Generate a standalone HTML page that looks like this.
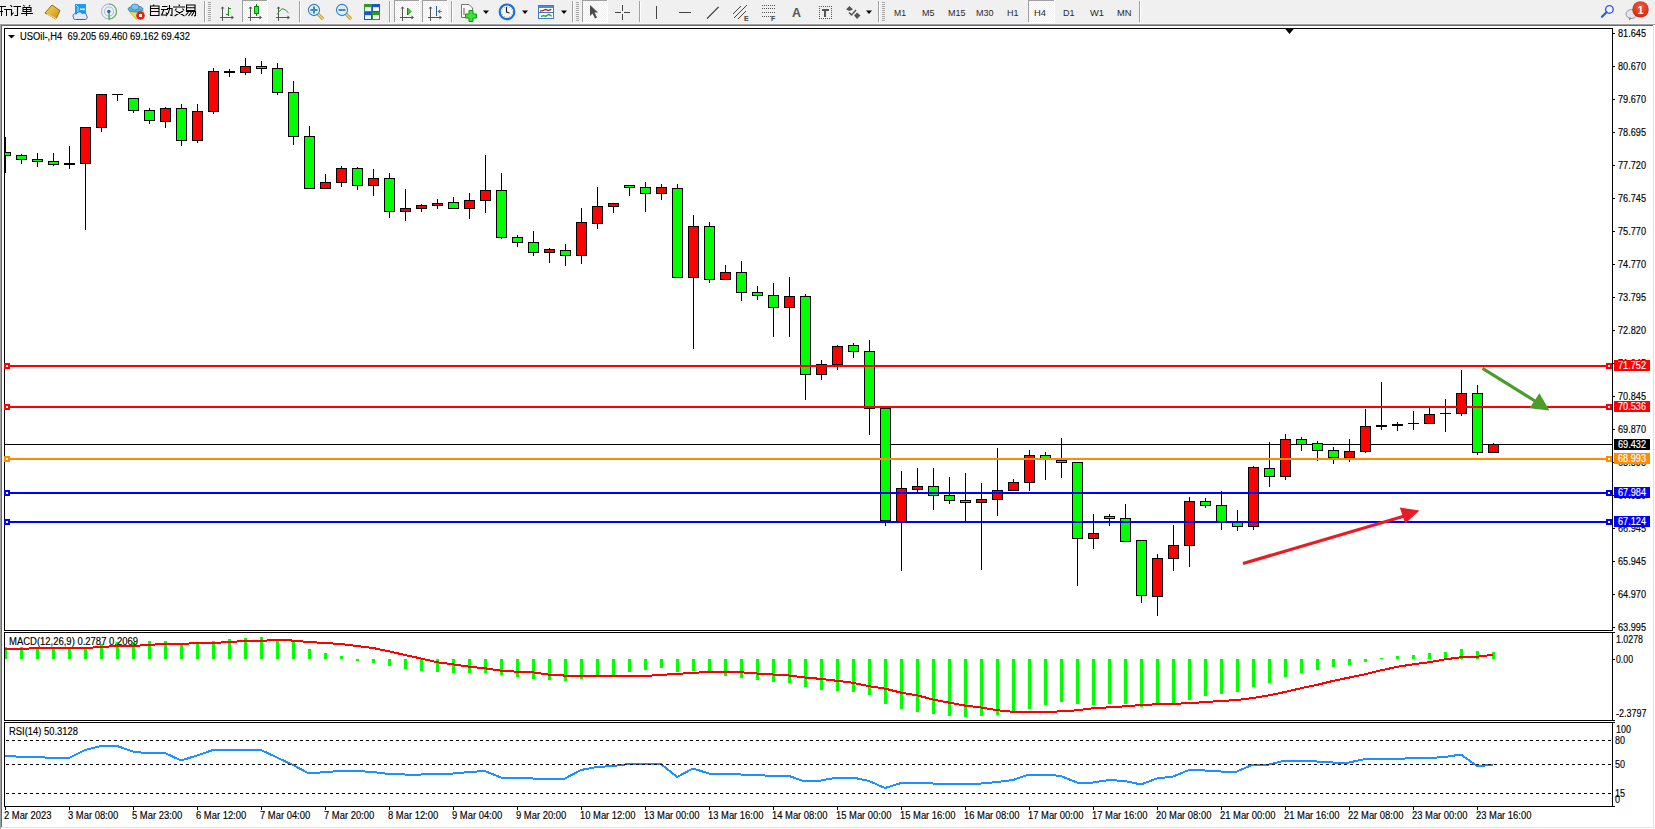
<!DOCTYPE html>
<html><head><meta charset="utf-8"><title>USOil H4</title>
<style>html,body{margin:0;padding:0;background:#fff;overflow:hidden;width:1655px;height:829px}
svg{display:block} text{font-family:"Liberation Sans",sans-serif}</style></head>
<body><svg width="1655" height="829" viewBox="0 0 1655 829" shape-rendering="crispEdges" font-family="Liberation Sans">
<rect x="0" y="0" width="1655" height="829" fill="#ffffff" />
<rect x="0" y="0" width="1655" height="23" fill="#f0f0f0" />
<rect x="0" y="23" width="1655" height="1" fill="#f6f6f6" />
<rect x="0" y="24" width="1655" height="1" fill="#a0a0a0" />
<rect x="0" y="25" width="1653" height="1" fill="#696969" />
<rect x="0" y="24" width="1" height="805" fill="#a0a0a0" />
<rect x="1" y="25" width="1" height="803" fill="#696969" />
<rect x="1653" y="26" width="1" height="802" fill="#e3e3e3" />
<rect x="1" y="827" width="1653" height="1" fill="#e3e3e3" />
<rect x="4" y="28" width="1609" height="1" fill="#000" />
<rect x="4" y="630" width="1609" height="1" fill="#000" />
<rect x="4" y="28" width="1" height="603" fill="#000" />
<rect x="1612" y="28" width="1" height="603" fill="#000" />
<rect x="4" y="632" width="1609" height="1" fill="#000" />
<rect x="4" y="720" width="1609" height="1" fill="#000" />
<rect x="4" y="632" width="1" height="89" fill="#000" />
<rect x="1612" y="632" width="1" height="89" fill="#000" />
<rect x="4" y="722" width="1609" height="1" fill="#000" />
<rect x="4" y="806" width="1609" height="1" fill="#000" />
<rect x="4" y="722" width="1" height="85" fill="#000" />
<rect x="1612" y="722" width="1" height="85" fill="#000" />
<rect x="1613" y="33" width="2" height="1" fill="#000" />
<text x="1618" y="37" font-size="10" fill="#000" stroke="#000" stroke-width="0.15" textLength="28" lengthAdjust="spacingAndGlyphs" >81.645</text>
<rect x="1613" y="66" width="2" height="1" fill="#000" />
<text x="1618" y="70" font-size="10" fill="#000" stroke="#000" stroke-width="0.15" textLength="28" lengthAdjust="spacingAndGlyphs" >80.670</text>
<rect x="1613" y="99" width="2" height="1" fill="#000" />
<text x="1618" y="103" font-size="10" fill="#000" stroke="#000" stroke-width="0.15" textLength="28" lengthAdjust="spacingAndGlyphs" >79.670</text>
<rect x="1613" y="132" width="2" height="1" fill="#000" />
<text x="1618" y="136" font-size="10" fill="#000" stroke="#000" stroke-width="0.15" textLength="28" lengthAdjust="spacingAndGlyphs" >78.695</text>
<rect x="1613" y="165" width="2" height="1" fill="#000" />
<text x="1618" y="169" font-size="10" fill="#000" stroke="#000" stroke-width="0.15" textLength="28" lengthAdjust="spacingAndGlyphs" >77.720</text>
<rect x="1613" y="198" width="2" height="1" fill="#000" />
<text x="1618" y="202" font-size="10" fill="#000" stroke="#000" stroke-width="0.15" textLength="28" lengthAdjust="spacingAndGlyphs" >76.745</text>
<rect x="1613" y="231" width="2" height="1" fill="#000" />
<text x="1618" y="235" font-size="10" fill="#000" stroke="#000" stroke-width="0.15" textLength="28" lengthAdjust="spacingAndGlyphs" >75.770</text>
<rect x="1613" y="264" width="2" height="1" fill="#000" />
<text x="1618" y="268" font-size="10" fill="#000" stroke="#000" stroke-width="0.15" textLength="28" lengthAdjust="spacingAndGlyphs" >74.770</text>
<rect x="1613" y="297" width="2" height="1" fill="#000" />
<text x="1618" y="301" font-size="10" fill="#000" stroke="#000" stroke-width="0.15" textLength="28" lengthAdjust="spacingAndGlyphs" >73.795</text>
<rect x="1613" y="330" width="2" height="1" fill="#000" />
<text x="1618" y="334" font-size="10" fill="#000" stroke="#000" stroke-width="0.15" textLength="28" lengthAdjust="spacingAndGlyphs" >72.820</text>
<rect x="1613" y="363" width="2" height="1" fill="#000" />
<text x="1618" y="367" font-size="10" fill="#000" stroke="#000" stroke-width="0.15" textLength="28" lengthAdjust="spacingAndGlyphs" >71.845</text>
<rect x="1613" y="396" width="2" height="1" fill="#000" />
<text x="1618" y="400" font-size="10" fill="#000" stroke="#000" stroke-width="0.15" textLength="28" lengthAdjust="spacingAndGlyphs" >70.845</text>
<rect x="1613" y="429" width="2" height="1" fill="#000" />
<text x="1618" y="433" font-size="10" fill="#000" stroke="#000" stroke-width="0.15" textLength="28" lengthAdjust="spacingAndGlyphs" >69.870</text>
<rect x="1613" y="462" width="2" height="1" fill="#000" />
<text x="1618" y="466" font-size="10" fill="#000" stroke="#000" stroke-width="0.15" textLength="28" lengthAdjust="spacingAndGlyphs" >68.895</text>
<rect x="1613" y="495" width="2" height="1" fill="#000" />
<text x="1618" y="499" font-size="10" fill="#000" stroke="#000" stroke-width="0.15" textLength="28" lengthAdjust="spacingAndGlyphs" >67.920</text>
<rect x="1613" y="528" width="2" height="1" fill="#000" />
<text x="1618" y="532" font-size="10" fill="#000" stroke="#000" stroke-width="0.15" textLength="28" lengthAdjust="spacingAndGlyphs" >66.945</text>
<rect x="1613" y="561" width="2" height="1" fill="#000" />
<text x="1618" y="565" font-size="10" fill="#000" stroke="#000" stroke-width="0.15" textLength="28" lengthAdjust="spacingAndGlyphs" >65.945</text>
<rect x="1613" y="594" width="2" height="1" fill="#000" />
<text x="1618" y="598" font-size="10" fill="#000" stroke="#000" stroke-width="0.15" textLength="28" lengthAdjust="spacingAndGlyphs" >64.970</text>
<rect x="1613" y="627" width="2" height="1" fill="#000" />
<text x="1618" y="631" font-size="10" fill="#000" stroke="#000" stroke-width="0.15" textLength="28" lengthAdjust="spacingAndGlyphs" >63.995</text>
<rect x="5" y="444" width="1607" height="1" fill="#000" />
<rect x="5" y="137" width="1" height="36" fill="#000" />
<rect x="5" y="152" width="6" height="4" fill="#000" />
<rect x="5" y="153" width="5" height="2" fill="#00ff00" />
<rect x="21" y="154" width="1" height="10" fill="#000" />
<rect x="16" y="155" width="11" height="5" fill="#000" />
<rect x="17" y="156" width="9" height="3" fill="#00ff00" />
<rect x="37" y="153" width="1" height="14" fill="#000" />
<rect x="32" y="159" width="11" height="3" fill="#000" />
<rect x="33" y="160" width="9" height="1" fill="#00ff00" />
<rect x="53" y="153" width="1" height="13" fill="#000" />
<rect x="48" y="161" width="11" height="4" fill="#000" />
<rect x="49" y="162" width="9" height="2" fill="#00ff00" />
<rect x="69" y="146" width="1" height="23" fill="#000" />
<rect x="64" y="163" width="11" height="2" fill="#000" />
<rect x="85" y="127" width="1" height="103" fill="#000" />
<rect x="80" y="127" width="11" height="37" fill="#000" />
<rect x="81" y="128" width="9" height="35" fill="#ff0000" />
<rect x="101" y="94" width="1" height="38" fill="#000" />
<rect x="96" y="94" width="11" height="34" fill="#000" />
<rect x="97" y="95" width="9" height="32" fill="#ff0000" />
<rect x="117" y="94" width="1" height="7" fill="#000" />
<rect x="112" y="94" width="11" height="1" fill="#000" />
<rect x="133" y="98" width="1" height="15" fill="#000" />
<rect x="128" y="98" width="11" height="13" fill="#000" />
<rect x="129" y="99" width="9" height="11" fill="#00ff00" />
<rect x="149" y="108" width="1" height="16" fill="#000" />
<rect x="144" y="110" width="11" height="11" fill="#000" />
<rect x="145" y="111" width="9" height="9" fill="#00ff00" />
<rect x="165" y="107" width="1" height="21" fill="#000" />
<rect x="160" y="108" width="11" height="14" fill="#000" />
<rect x="161" y="109" width="9" height="12" fill="#ff0000" />
<rect x="181" y="104" width="1" height="42" fill="#000" />
<rect x="176" y="108" width="11" height="33" fill="#000" />
<rect x="177" y="109" width="9" height="31" fill="#00ff00" />
<rect x="197" y="104" width="1" height="39" fill="#000" />
<rect x="192" y="111" width="11" height="30" fill="#000" />
<rect x="193" y="112" width="9" height="28" fill="#ff0000" />
<rect x="213" y="68" width="1" height="46" fill="#000" />
<rect x="208" y="71" width="11" height="41" fill="#000" />
<rect x="209" y="72" width="9" height="39" fill="#ff0000" />
<rect x="229" y="69" width="1" height="8" fill="#000" />
<rect x="224" y="71" width="11" height="2" fill="#000" />
<rect x="245" y="58" width="1" height="17" fill="#000" />
<rect x="240" y="66" width="11" height="7" fill="#000" />
<rect x="241" y="67" width="9" height="5" fill="#ff0000" />
<rect x="261" y="61" width="1" height="13" fill="#000" />
<rect x="256" y="66" width="11" height="3" fill="#000" />
<rect x="257" y="67" width="9" height="1" fill="#00ff00" />
<rect x="277" y="63" width="1" height="32" fill="#000" />
<rect x="272" y="68" width="11" height="25" fill="#000" />
<rect x="273" y="69" width="9" height="23" fill="#00ff00" />
<rect x="293" y="81" width="1" height="64" fill="#000" />
<rect x="288" y="92" width="11" height="45" fill="#000" />
<rect x="289" y="93" width="9" height="43" fill="#00ff00" />
<rect x="309" y="126" width="1" height="63" fill="#000" />
<rect x="304" y="136" width="11" height="53" fill="#000" />
<rect x="305" y="137" width="9" height="51" fill="#00ff00" />
<rect x="325" y="174" width="1" height="15" fill="#000" />
<rect x="320" y="182" width="11" height="7" fill="#000" />
<rect x="321" y="183" width="9" height="5" fill="#ff0000" />
<rect x="341" y="166" width="1" height="21" fill="#000" />
<rect x="336" y="168" width="11" height="15" fill="#000" />
<rect x="337" y="169" width="9" height="13" fill="#ff0000" />
<rect x="357" y="167" width="1" height="23" fill="#000" />
<rect x="352" y="168" width="11" height="18" fill="#000" />
<rect x="353" y="169" width="9" height="16" fill="#00ff00" />
<rect x="373" y="169" width="1" height="27" fill="#000" />
<rect x="368" y="178" width="11" height="8" fill="#000" />
<rect x="369" y="179" width="9" height="6" fill="#ff0000" />
<rect x="389" y="173" width="1" height="45" fill="#000" />
<rect x="384" y="178" width="11" height="34" fill="#000" />
<rect x="385" y="179" width="9" height="32" fill="#00ff00" />
<rect x="405" y="189" width="1" height="32" fill="#000" />
<rect x="400" y="208" width="11" height="4" fill="#000" />
<rect x="401" y="209" width="9" height="2" fill="#ff0000" />
<rect x="421" y="204" width="1" height="8" fill="#000" />
<rect x="416" y="205" width="11" height="4" fill="#000" />
<rect x="417" y="206" width="9" height="2" fill="#ff0000" />
<rect x="437" y="199" width="1" height="10" fill="#000" />
<rect x="432" y="203" width="11" height="3" fill="#000" />
<rect x="433" y="204" width="9" height="1" fill="#ff0000" />
<rect x="453" y="197" width="1" height="12" fill="#000" />
<rect x="448" y="202" width="11" height="7" fill="#000" />
<rect x="449" y="203" width="9" height="5" fill="#00ff00" />
<rect x="469" y="193" width="1" height="26" fill="#000" />
<rect x="464" y="200" width="11" height="9" fill="#000" />
<rect x="465" y="201" width="9" height="7" fill="#ff0000" />
<rect x="485" y="155" width="1" height="58" fill="#000" />
<rect x="480" y="190" width="11" height="11" fill="#000" />
<rect x="481" y="191" width="9" height="9" fill="#ff0000" />
<rect x="501" y="173" width="1" height="66" fill="#000" />
<rect x="496" y="190" width="11" height="48" fill="#000" />
<rect x="497" y="191" width="9" height="46" fill="#00ff00" />
<rect x="517" y="235" width="1" height="12" fill="#000" />
<rect x="512" y="237" width="11" height="6" fill="#000" />
<rect x="513" y="238" width="9" height="4" fill="#00ff00" />
<rect x="533" y="231" width="1" height="25" fill="#000" />
<rect x="528" y="242" width="11" height="11" fill="#000" />
<rect x="529" y="243" width="9" height="9" fill="#00ff00" />
<rect x="549" y="248" width="1" height="15" fill="#000" />
<rect x="544" y="249" width="11" height="4" fill="#000" />
<rect x="545" y="250" width="9" height="2" fill="#ff0000" />
<rect x="565" y="244" width="1" height="22" fill="#000" />
<rect x="560" y="250" width="11" height="6" fill="#000" />
<rect x="561" y="251" width="9" height="4" fill="#00ff00" />
<rect x="581" y="208" width="1" height="56" fill="#000" />
<rect x="576" y="222" width="11" height="34" fill="#000" />
<rect x="577" y="223" width="9" height="32" fill="#ff0000" />
<rect x="597" y="187" width="1" height="42" fill="#000" />
<rect x="592" y="206" width="11" height="18" fill="#000" />
<rect x="593" y="207" width="9" height="16" fill="#ff0000" />
<rect x="613" y="203" width="1" height="10" fill="#000" />
<rect x="608" y="203" width="11" height="4" fill="#000" />
<rect x="609" y="204" width="9" height="2" fill="#ff0000" />
<rect x="629" y="185" width="1" height="11" fill="#000" />
<rect x="624" y="185" width="11" height="3" fill="#000" />
<rect x="625" y="186" width="9" height="1" fill="#00ff00" />
<rect x="645" y="182" width="1" height="30" fill="#000" />
<rect x="640" y="187" width="11" height="7" fill="#000" />
<rect x="641" y="188" width="9" height="5" fill="#00ff00" />
<rect x="661" y="184" width="1" height="16" fill="#000" />
<rect x="656" y="187" width="11" height="7" fill="#000" />
<rect x="657" y="188" width="9" height="5" fill="#ff0000" />
<rect x="677" y="184" width="1" height="94" fill="#000" />
<rect x="672" y="188" width="11" height="90" fill="#000" />
<rect x="673" y="189" width="9" height="88" fill="#00ff00" />
<rect x="693" y="215" width="1" height="134" fill="#000" />
<rect x="688" y="226" width="11" height="52" fill="#000" />
<rect x="689" y="227" width="9" height="50" fill="#ff0000" />
<rect x="709" y="222" width="1" height="61" fill="#000" />
<rect x="704" y="226" width="11" height="54" fill="#000" />
<rect x="705" y="227" width="9" height="52" fill="#00ff00" />
<rect x="725" y="265" width="1" height="15" fill="#000" />
<rect x="720" y="272" width="11" height="8" fill="#000" />
<rect x="721" y="273" width="9" height="6" fill="#ff0000" />
<rect x="741" y="261" width="1" height="40" fill="#000" />
<rect x="736" y="272" width="11" height="21" fill="#000" />
<rect x="737" y="273" width="9" height="19" fill="#00ff00" />
<rect x="757" y="286" width="1" height="14" fill="#000" />
<rect x="752" y="292" width="11" height="4" fill="#000" />
<rect x="753" y="293" width="9" height="2" fill="#00ff00" />
<rect x="773" y="283" width="1" height="54" fill="#000" />
<rect x="768" y="295" width="11" height="13" fill="#000" />
<rect x="769" y="296" width="9" height="11" fill="#00ff00" />
<rect x="789" y="277" width="1" height="60" fill="#000" />
<rect x="784" y="296" width="11" height="12" fill="#000" />
<rect x="785" y="297" width="9" height="10" fill="#ff0000" />
<rect x="805" y="294" width="1" height="106" fill="#000" />
<rect x="800" y="296" width="11" height="79" fill="#000" />
<rect x="801" y="297" width="9" height="77" fill="#00ff00" />
<rect x="821" y="360" width="1" height="20" fill="#000" />
<rect x="816" y="364" width="11" height="11" fill="#000" />
<rect x="817" y="365" width="9" height="9" fill="#ff0000" />
<rect x="837" y="345" width="1" height="25" fill="#000" />
<rect x="832" y="346" width="11" height="19" fill="#000" />
<rect x="833" y="347" width="9" height="17" fill="#ff0000" />
<rect x="853" y="343" width="1" height="15" fill="#000" />
<rect x="848" y="345" width="11" height="7" fill="#000" />
<rect x="849" y="346" width="9" height="5" fill="#00ff00" />
<rect x="869" y="340" width="1" height="95" fill="#000" />
<rect x="864" y="351" width="11" height="58" fill="#000" />
<rect x="865" y="352" width="9" height="56" fill="#00ff00" />
<rect x="885" y="408" width="1" height="118" fill="#000" />
<rect x="880" y="408" width="11" height="113" fill="#000" />
<rect x="881" y="409" width="9" height="111" fill="#00ff00" />
<rect x="901" y="471" width="1" height="100" fill="#000" />
<rect x="896" y="488" width="11" height="34" fill="#000" />
<rect x="897" y="489" width="9" height="32" fill="#ff0000" />
<rect x="917" y="468" width="1" height="24" fill="#000" />
<rect x="912" y="486" width="11" height="4" fill="#000" />
<rect x="913" y="487" width="9" height="2" fill="#ff0000" />
<rect x="933" y="468" width="1" height="42" fill="#000" />
<rect x="928" y="486" width="11" height="10" fill="#000" />
<rect x="929" y="487" width="9" height="8" fill="#00ff00" />
<rect x="949" y="477" width="1" height="27" fill="#000" />
<rect x="944" y="495" width="11" height="6" fill="#000" />
<rect x="945" y="496" width="9" height="4" fill="#00ff00" />
<rect x="965" y="473" width="1" height="49" fill="#000" />
<rect x="960" y="500" width="11" height="3" fill="#000" />
<rect x="961" y="501" width="9" height="1" fill="#00ff00" />
<rect x="981" y="483" width="1" height="87" fill="#000" />
<rect x="976" y="499" width="11" height="4" fill="#000" />
<rect x="977" y="500" width="9" height="2" fill="#ff0000" />
<rect x="997" y="448" width="1" height="68" fill="#000" />
<rect x="992" y="490" width="11" height="10" fill="#000" />
<rect x="993" y="491" width="9" height="8" fill="#ff0000" />
<rect x="1013" y="479" width="1" height="12" fill="#000" />
<rect x="1008" y="482" width="11" height="9" fill="#000" />
<rect x="1009" y="483" width="9" height="7" fill="#ff0000" />
<rect x="1029" y="450" width="1" height="41" fill="#000" />
<rect x="1024" y="455" width="11" height="28" fill="#000" />
<rect x="1025" y="456" width="9" height="26" fill="#ff0000" />
<rect x="1045" y="452" width="1" height="28" fill="#000" />
<rect x="1040" y="455" width="11" height="4" fill="#000" />
<rect x="1041" y="456" width="9" height="2" fill="#00ff00" />
<rect x="1061" y="438" width="1" height="40" fill="#000" />
<rect x="1056" y="460" width="11" height="3" fill="#000" />
<rect x="1057" y="461" width="9" height="1" fill="#00ff00" />
<rect x="1077" y="462" width="1" height="124" fill="#000" />
<rect x="1072" y="462" width="11" height="77" fill="#000" />
<rect x="1073" y="463" width="9" height="75" fill="#00ff00" />
<rect x="1093" y="514" width="1" height="35" fill="#000" />
<rect x="1088" y="533" width="11" height="6" fill="#000" />
<rect x="1089" y="534" width="9" height="4" fill="#ff0000" />
<rect x="1109" y="514" width="1" height="12" fill="#000" />
<rect x="1104" y="516" width="11" height="3" fill="#000" />
<rect x="1105" y="517" width="9" height="1" fill="#00ff00" />
<rect x="1125" y="504" width="1" height="38" fill="#000" />
<rect x="1120" y="518" width="11" height="24" fill="#000" />
<rect x="1121" y="519" width="9" height="22" fill="#00ff00" />
<rect x="1141" y="540" width="1" height="63" fill="#000" />
<rect x="1136" y="540" width="11" height="56" fill="#000" />
<rect x="1137" y="541" width="9" height="54" fill="#00ff00" />
<rect x="1157" y="554" width="1" height="62" fill="#000" />
<rect x="1152" y="558" width="11" height="39" fill="#000" />
<rect x="1153" y="559" width="9" height="37" fill="#ff0000" />
<rect x="1173" y="525" width="1" height="46" fill="#000" />
<rect x="1168" y="545" width="11" height="14" fill="#000" />
<rect x="1169" y="546" width="9" height="12" fill="#ff0000" />
<rect x="1189" y="497" width="1" height="70" fill="#000" />
<rect x="1184" y="501" width="11" height="45" fill="#000" />
<rect x="1185" y="502" width="9" height="43" fill="#ff0000" />
<rect x="1205" y="498" width="1" height="10" fill="#000" />
<rect x="1200" y="501" width="11" height="5" fill="#000" />
<rect x="1201" y="502" width="9" height="3" fill="#00ff00" />
<rect x="1221" y="491" width="1" height="39" fill="#000" />
<rect x="1216" y="505" width="11" height="17" fill="#000" />
<rect x="1217" y="506" width="9" height="15" fill="#00ff00" />
<rect x="1237" y="510" width="1" height="21" fill="#000" />
<rect x="1232" y="522" width="11" height="5" fill="#000" />
<rect x="1233" y="523" width="9" height="3" fill="#00ff00" />
<rect x="1253" y="466" width="1" height="64" fill="#000" />
<rect x="1248" y="467" width="11" height="60" fill="#000" />
<rect x="1249" y="468" width="9" height="58" fill="#ff0000" />
<rect x="1269" y="442" width="1" height="45" fill="#000" />
<rect x="1264" y="468" width="11" height="9" fill="#000" />
<rect x="1265" y="469" width="9" height="7" fill="#00ff00" />
<rect x="1285" y="434" width="1" height="46" fill="#000" />
<rect x="1280" y="439" width="11" height="38" fill="#000" />
<rect x="1281" y="440" width="9" height="36" fill="#ff0000" />
<rect x="1301" y="437" width="1" height="14" fill="#000" />
<rect x="1296" y="439" width="11" height="6" fill="#000" />
<rect x="1297" y="440" width="9" height="4" fill="#00ff00" />
<rect x="1317" y="441" width="1" height="20" fill="#000" />
<rect x="1312" y="443" width="11" height="8" fill="#000" />
<rect x="1313" y="444" width="9" height="6" fill="#00ff00" />
<rect x="1333" y="447" width="1" height="17" fill="#000" />
<rect x="1328" y="450" width="11" height="8" fill="#000" />
<rect x="1329" y="451" width="9" height="6" fill="#00ff00" />
<rect x="1349" y="439" width="1" height="23" fill="#000" />
<rect x="1344" y="451" width="11" height="7" fill="#000" />
<rect x="1345" y="452" width="9" height="5" fill="#ff0000" />
<rect x="1365" y="409" width="1" height="44" fill="#000" />
<rect x="1360" y="426" width="11" height="26" fill="#000" />
<rect x="1361" y="427" width="9" height="24" fill="#ff0000" />
<rect x="1381" y="382" width="1" height="48" fill="#000" />
<rect x="1376" y="425" width="11" height="2" fill="#000" />
<rect x="1397" y="422" width="1" height="9" fill="#000" />
<rect x="1392" y="424" width="11" height="2" fill="#000" />
<rect x="1413" y="411" width="1" height="19" fill="#000" />
<rect x="1408" y="423" width="11" height="1" fill="#000" />
<rect x="1429" y="408" width="1" height="16" fill="#000" />
<rect x="1424" y="414" width="11" height="10" fill="#000" />
<rect x="1425" y="415" width="9" height="8" fill="#ff0000" />
<rect x="1445" y="399" width="1" height="33" fill="#000" />
<rect x="1440" y="413" width="11" height="1" fill="#000" />
<rect x="1461" y="370" width="1" height="46" fill="#000" />
<rect x="1456" y="393" width="11" height="21" fill="#000" />
<rect x="1457" y="394" width="9" height="19" fill="#ff0000" />
<rect x="1477" y="385" width="1" height="70" fill="#000" />
<rect x="1472" y="393" width="11" height="60" fill="#000" />
<rect x="1473" y="394" width="9" height="58" fill="#00ff00" />
<rect x="1493" y="443" width="1" height="10" fill="#000" />
<rect x="1488" y="444" width="11" height="9" fill="#000" />
<rect x="1489" y="445" width="9" height="7" fill="#ff0000" />
<rect x="5" y="365" width="1607" height="2" fill="#ff0000" />
<rect x="4" y="363" width="6" height="6" fill="#ff0000" />
<rect x="6" y="365" width="2" height="2" fill="#fff" />
<rect x="1606" y="363" width="6" height="6" fill="#ff0000" />
<rect x="1608" y="365" width="2" height="2" fill="#fff" />
<rect x="1614" y="360" width="36" height="11" fill="#ff0000" />
<text x="1618" y="369" font-size="10" fill="#fff" stroke="#fff" stroke-width="0.15" textLength="28" lengthAdjust="spacingAndGlyphs" >71.752</text>
<rect x="5" y="406" width="1607" height="2" fill="#ff0000" />
<rect x="4" y="404" width="6" height="6" fill="#ff0000" />
<rect x="6" y="406" width="2" height="2" fill="#fff" />
<rect x="1606" y="404" width="6" height="6" fill="#ff0000" />
<rect x="1608" y="406" width="2" height="2" fill="#fff" />
<rect x="1614" y="401" width="36" height="11" fill="#ff0000" />
<text x="1618" y="410" font-size="10" fill="#fff" stroke="#fff" stroke-width="0.15" textLength="28" lengthAdjust="spacingAndGlyphs" >70.536</text>
<rect x="5" y="458" width="1607" height="2" fill="#ff8c00" />
<rect x="4" y="456" width="6" height="6" fill="#ff8c00" />
<rect x="6" y="458" width="2" height="2" fill="#fff" />
<rect x="1606" y="456" width="6" height="6" fill="#ff8c00" />
<rect x="1608" y="458" width="2" height="2" fill="#fff" />
<rect x="1614" y="453" width="36" height="11" fill="#ff8c00" />
<text x="1618" y="462" font-size="10" fill="#fff" stroke="#fff" stroke-width="0.15" textLength="28" lengthAdjust="spacingAndGlyphs" >68.993</text>
<rect x="5" y="492" width="1607" height="2" fill="#0000ff" />
<rect x="4" y="490" width="6" height="6" fill="#0000ff" />
<rect x="6" y="492" width="2" height="2" fill="#fff" />
<rect x="1606" y="490" width="6" height="6" fill="#0000ff" />
<rect x="1608" y="492" width="2" height="2" fill="#fff" />
<rect x="1614" y="487" width="36" height="11" fill="#0000ff" />
<text x="1618" y="496" font-size="10" fill="#fff" stroke="#fff" stroke-width="0.15" textLength="28" lengthAdjust="spacingAndGlyphs" >67.984</text>
<rect x="5" y="521" width="1607" height="2" fill="#0000ff" />
<rect x="4" y="519" width="6" height="6" fill="#0000ff" />
<rect x="6" y="521" width="2" height="2" fill="#fff" />
<rect x="1606" y="519" width="6" height="6" fill="#0000ff" />
<rect x="1608" y="521" width="2" height="2" fill="#fff" />
<rect x="1614" y="516" width="36" height="11" fill="#0000ff" />
<text x="1618" y="525" font-size="10" fill="#fff" stroke="#fff" stroke-width="0.15" textLength="28" lengthAdjust="spacingAndGlyphs" >67.124</text>
<rect x="1614" y="439" width="36" height="11" fill="#000" />
<text x="1618" y="448" font-size="10" fill="#fff" stroke="#fff" stroke-width="0.15" textLength="28" lengthAdjust="spacingAndGlyphs" >69.432</text>
<g shape-rendering="geometricPrecision">
<line x1="1243" y1="563.5" x2="1408" y2="515" stroke="#e81c24" stroke-width="3.2"/>
<polygon points="1399.8,507.5 1419.5,510.6 1405.2,523.6" fill="#e81c24"/>
<line x1="1482.5" y1="368.3" x2="1535" y2="401" stroke="#4c9b2b" stroke-width="3.2"/>
<polygon points="1539.4,393.3 1549.5,410.5 1529.5,408.3" fill="#4c9b2b"/>
</g>
<polygon points="8,35 15,35 11.5,38.5" fill="#000" shape-rendering="geometricPrecision"/>
<text x="20" y="40" font-size="10" fill="#000" stroke="#000" stroke-width="0.15" textLength="170" lengthAdjust="spacingAndGlyphs" xml:space="preserve">USOil-,H4&#160;&#160;69.205 69.460 69.162 69.432</text>
<polygon points="1284.5,28 1294.5,28 1289.5,34" fill="#000" shape-rendering="geometricPrecision"/>
<rect x="5" y="647" width="2" height="12" fill="#00ff00" />
<rect x="20" y="647" width="3" height="12" fill="#00ff00" />
<rect x="36" y="647" width="3" height="12" fill="#00ff00" />
<rect x="52" y="648" width="3" height="11" fill="#00ff00" />
<rect x="68" y="648" width="3" height="11" fill="#00ff00" />
<rect x="84" y="648" width="3" height="11" fill="#00ff00" />
<rect x="100" y="644" width="3" height="15" fill="#00ff00" />
<rect x="116" y="642" width="3" height="17" fill="#00ff00" />
<rect x="132" y="642" width="3" height="17" fill="#00ff00" />
<rect x="148" y="641" width="3" height="18" fill="#00ff00" />
<rect x="164" y="641" width="3" height="18" fill="#00ff00" />
<rect x="180" y="645" width="3" height="14" fill="#00ff00" />
<rect x="196" y="644" width="3" height="15" fill="#00ff00" />
<rect x="212" y="641" width="3" height="18" fill="#00ff00" />
<rect x="228" y="639" width="3" height="20" fill="#00ff00" />
<rect x="244" y="638" width="3" height="21" fill="#00ff00" />
<rect x="260" y="637" width="3" height="22" fill="#00ff00" />
<rect x="276" y="639" width="3" height="20" fill="#00ff00" />
<rect x="292" y="642" width="3" height="17" fill="#00ff00" />
<rect x="308" y="649" width="3" height="10" fill="#00ff00" />
<rect x="324" y="653" width="3" height="6" fill="#00ff00" />
<rect x="340" y="656" width="3" height="3" fill="#00ff00" />
<rect x="356" y="659" width="3" height="2" fill="#00ff00" />
<rect x="372" y="659" width="3" height="4" fill="#00ff00" />
<rect x="388" y="659" width="3" height="7" fill="#00ff00" />
<rect x="404" y="659" width="3" height="10" fill="#00ff00" />
<rect x="420" y="659" width="3" height="12" fill="#00ff00" />
<rect x="436" y="659" width="3" height="13" fill="#00ff00" />
<rect x="452" y="659" width="3" height="14" fill="#00ff00" />
<rect x="468" y="659" width="3" height="14" fill="#00ff00" />
<rect x="484" y="659" width="3" height="14" fill="#00ff00" />
<rect x="500" y="659" width="3" height="16" fill="#00ff00" />
<rect x="516" y="659" width="3" height="18" fill="#00ff00" />
<rect x="532" y="659" width="3" height="20" fill="#00ff00" />
<rect x="548" y="659" width="3" height="21" fill="#00ff00" />
<rect x="564" y="659" width="3" height="22" fill="#00ff00" />
<rect x="580" y="659" width="3" height="20" fill="#00ff00" />
<rect x="596" y="659" width="3" height="16" fill="#00ff00" />
<rect x="612" y="659" width="3" height="16" fill="#00ff00" />
<rect x="628" y="659" width="3" height="13" fill="#00ff00" />
<rect x="644" y="659" width="3" height="11" fill="#00ff00" />
<rect x="660" y="659" width="3" height="9" fill="#00ff00" />
<rect x="676" y="659" width="3" height="13" fill="#00ff00" />
<rect x="692" y="659" width="3" height="12" fill="#00ff00" />
<rect x="708" y="659" width="3" height="14" fill="#00ff00" />
<rect x="724" y="659" width="3" height="17" fill="#00ff00" />
<rect x="740" y="659" width="3" height="19" fill="#00ff00" />
<rect x="756" y="659" width="3" height="21" fill="#00ff00" />
<rect x="772" y="659" width="3" height="23" fill="#00ff00" />
<rect x="788" y="659" width="3" height="24" fill="#00ff00" />
<rect x="804" y="659" width="3" height="28" fill="#00ff00" />
<rect x="820" y="659" width="3" height="31" fill="#00ff00" />
<rect x="836" y="659" width="3" height="32" fill="#00ff00" />
<rect x="852" y="659" width="3" height="33" fill="#00ff00" />
<rect x="868" y="659" width="3" height="36" fill="#00ff00" />
<rect x="884" y="659" width="3" height="45" fill="#00ff00" />
<rect x="900" y="659" width="3" height="50" fill="#00ff00" />
<rect x="916" y="659" width="3" height="53" fill="#00ff00" />
<rect x="932" y="659" width="3" height="55" fill="#00ff00" />
<rect x="948" y="659" width="3" height="57" fill="#00ff00" />
<rect x="964" y="659" width="3" height="58" fill="#00ff00" />
<rect x="980" y="659" width="3" height="57" fill="#00ff00" />
<rect x="996" y="659" width="3" height="56" fill="#00ff00" />
<rect x="1012" y="659" width="3" height="52" fill="#00ff00" />
<rect x="1028" y="659" width="3" height="50" fill="#00ff00" />
<rect x="1044" y="659" width="3" height="46" fill="#00ff00" />
<rect x="1060" y="659" width="3" height="43" fill="#00ff00" />
<rect x="1076" y="659" width="3" height="45" fill="#00ff00" />
<rect x="1092" y="659" width="3" height="46" fill="#00ff00" />
<rect x="1108" y="659" width="3" height="45" fill="#00ff00" />
<rect x="1124" y="659" width="3" height="45" fill="#00ff00" />
<rect x="1140" y="659" width="3" height="48" fill="#00ff00" />
<rect x="1156" y="659" width="3" height="46" fill="#00ff00" />
<rect x="1172" y="659" width="3" height="44" fill="#00ff00" />
<rect x="1188" y="659" width="3" height="41" fill="#00ff00" />
<rect x="1204" y="659" width="3" height="37" fill="#00ff00" />
<rect x="1220" y="659" width="3" height="35" fill="#00ff00" />
<rect x="1236" y="659" width="3" height="33" fill="#00ff00" />
<rect x="1252" y="659" width="3" height="28" fill="#00ff00" />
<rect x="1268" y="659" width="3" height="24" fill="#00ff00" />
<rect x="1284" y="659" width="3" height="18" fill="#00ff00" />
<rect x="1300" y="659" width="3" height="14" fill="#00ff00" />
<rect x="1316" y="659" width="3" height="11" fill="#00ff00" />
<rect x="1332" y="659" width="3" height="8" fill="#00ff00" />
<rect x="1348" y="659" width="3" height="6" fill="#00ff00" />
<rect x="1364" y="659" width="3" height="3" fill="#00ff00" />
<rect x="1380" y="658" width="3" height="1" fill="#00ff00" />
<rect x="1396" y="656" width="3" height="3" fill="#00ff00" />
<rect x="1412" y="655" width="3" height="4" fill="#00ff00" />
<rect x="1428" y="653" width="3" height="6" fill="#00ff00" />
<rect x="1444" y="652" width="3" height="7" fill="#00ff00" />
<rect x="1460" y="649" width="3" height="10" fill="#00ff00" />
<rect x="1476" y="651" width="3" height="8" fill="#00ff00" />
<rect x="1492" y="652" width="3" height="7" fill="#00ff00" />
<polyline points="5,649 21,649 37,648 53,648 69,648 85,648 101,647 117,646 133,646 149,644.8 165,644 181,644 197,643 213,643 229,642 245,641 261,641 277,639.6 293,640.6 309,642 325,643 341,644 357,646 373,648 389,651.3 405,655 421,658.5 437,662.2 453,664.3 469,666.7 485,668.3 501,670.6 517,671.7 533,672.4 549,674.6 565,675.6 581,676 597,676 613,676 629,676 645,676 661,674.9 677,673.9 693,672.9 709,671.9 725,671.9 741,672.3 757,673.5 773,674.5 789,675.5 805,677.5 821,678.9 837,680.8 853,682.8 869,686.2 885,688.6 901,692.6 917,695.3 933,699.5 949,702.6 965,705.6 981,707.5 997,710.2 1013,711.8 1029,711.8 1045,711.8 1061,711.4 1077,710.3 1093,708.3 1109,707.3 1125,706.3 1141,705 1157,704.3 1173,703.7 1189,703.3 1205,702 1221,701 1237,700 1253,698 1269,695.3 1285,692 1301,688.2 1317,684.9 1333,680.9 1349,677.6 1365,674.3 1381,670.3 1397,666.9 1413,664.3 1429,662.3 1445,659.4 1461,657.2 1477,656.7 1493,654.7" fill="none" stroke="#ff0000" stroke-width="2"/>
<text x="9" y="645" font-size="10" fill="#000" stroke="#000" stroke-width="0.15" textLength="129" lengthAdjust="spacingAndGlyphs" >MACD(12,26,9) 0.2787 0.2069</text>
<rect x="1613" y="632" width="2" height="1" fill="#000" />
<text x="1616" y="643" font-size="10" fill="#000" stroke="#000" stroke-width="0.15" textLength="27" lengthAdjust="spacingAndGlyphs" >1.0278</text>
<rect x="1613" y="659" width="2" height="1" fill="#000" />
<text x="1616" y="663" font-size="10" fill="#000" stroke="#000" stroke-width="0.15" textLength="17" lengthAdjust="spacingAndGlyphs" >0.00</text>
<rect x="1613" y="720" width="2" height="1" fill="#000" />
<text x="1616" y="717" font-size="10" fill="#000" stroke="#000" stroke-width="0.15" textLength="30.5" lengthAdjust="spacingAndGlyphs" >-2.3797</text>
<polyline points="5,755.5 21,757 37,757 53,758 69,758 85,750 101,746 117,746 133,751.5 149,753.5 165,753 181,760.5 197,755.5 213,750 229,750 245,750 261,750 277,757.5 293,765 309,773.5 325,772 341,771 357,771 373,772 389,774 405,774.5 421,774.5 437,773.5 453,773.5 469,772 485,771 501,777.5 517,778 533,778.5 549,778.5 565,778.5 581,770 597,767 613,766 629,764 645,764 661,764 677,777 693,768.5 709,773.5 725,773.5 741,774.5 757,774.5 773,776.5 789,776 805,781.5 821,780.5 837,777.5 853,777.5 869,781 885,788 901,783 917,783 933,783.5 949,783.5 965,783.5 981,783.5 997,782 1013,780 1029,774.5 1045,774.5 1061,776 1077,782.5 1093,782.5 1109,780 1125,781 1141,784.5 1157,778.5 1173,776.5 1189,770 1205,770.5 1221,771.5 1237,771.5 1253,764.5 1269,764.5 1285,760.5 1301,760.5 1317,761.5 1333,762.5 1349,762.5 1365,759 1381,759 1397,759 1413,758 1429,758 1445,757 1461,754.5 1477,766 1493,765" fill="none" stroke="#1e90ff" stroke-width="2"/>
<line x1="5" y1="740.5" x2="1612" y2="740.5" stroke="#000" stroke-width="1" stroke-dasharray="3,3" stroke-dashoffset="-1"/>
<line x1="5" y1="764.5" x2="1612" y2="764.5" stroke="#000" stroke-width="1" stroke-dasharray="3,3" stroke-dashoffset="-1"/>
<line x1="5" y1="793.5" x2="1612" y2="793.5" stroke="#000" stroke-width="1" stroke-dasharray="3,3" stroke-dashoffset="-1"/>
<text x="9" y="735" font-size="10" fill="#000" stroke="#000" stroke-width="0.15" textLength="69" lengthAdjust="spacingAndGlyphs" >RSI(14) 50.3128</text>
<rect x="1613" y="722" width="2" height="1" fill="#000" />
<text x="1616" y="733" font-size="10" fill="#000" stroke="#000" stroke-width="0.15" textLength="15" lengthAdjust="spacingAndGlyphs" >100</text>
<text x="1615" y="744" font-size="10" fill="#000" stroke="#000" stroke-width="0.15" textLength="10" lengthAdjust="spacingAndGlyphs" >80</text>
<text x="1615" y="768" font-size="10" fill="#000" stroke="#000" stroke-width="0.15" textLength="10" lengthAdjust="spacingAndGlyphs" >50</text>
<text x="1615" y="797" font-size="10" fill="#000" stroke="#000" stroke-width="0.15" textLength="10" lengthAdjust="spacingAndGlyphs" >15</text>
<text x="1615" y="803" font-size="10" fill="#000" stroke="#000" stroke-width="0.15" textLength="5" lengthAdjust="spacingAndGlyphs" >0</text>
<rect x="1613" y="806" width="2" height="1" fill="#000" />
<rect x="5" y="807" width="1" height="3" fill="#000" />
<text x="4" y="819" font-size="10" fill="#000" stroke="#000" stroke-width="0.15" textLength="47.5" lengthAdjust="spacingAndGlyphs" >2 Mar 2023</text>
<rect x="69" y="807" width="1" height="3" fill="#000" />
<text x="68" y="819" font-size="10" fill="#000" stroke="#000" stroke-width="0.15" textLength="50.2" lengthAdjust="spacingAndGlyphs" >3 Mar 08:00</text>
<rect x="133" y="807" width="1" height="3" fill="#000" />
<text x="132" y="819" font-size="10" fill="#000" stroke="#000" stroke-width="0.15" textLength="50.2" lengthAdjust="spacingAndGlyphs" >5 Mar 23:00</text>
<rect x="197" y="807" width="1" height="3" fill="#000" />
<text x="196" y="819" font-size="10" fill="#000" stroke="#000" stroke-width="0.15" textLength="50.2" lengthAdjust="spacingAndGlyphs" >6 Mar 12:00</text>
<rect x="261" y="807" width="1" height="3" fill="#000" />
<text x="260" y="819" font-size="10" fill="#000" stroke="#000" stroke-width="0.15" textLength="50.2" lengthAdjust="spacingAndGlyphs" >7 Mar 04:00</text>
<rect x="325" y="807" width="1" height="3" fill="#000" />
<text x="324" y="819" font-size="10" fill="#000" stroke="#000" stroke-width="0.15" textLength="50.2" lengthAdjust="spacingAndGlyphs" >7 Mar 20:00</text>
<rect x="389" y="807" width="1" height="3" fill="#000" />
<text x="388" y="819" font-size="10" fill="#000" stroke="#000" stroke-width="0.15" textLength="50.2" lengthAdjust="spacingAndGlyphs" >8 Mar 12:00</text>
<rect x="453" y="807" width="1" height="3" fill="#000" />
<text x="452" y="819" font-size="10" fill="#000" stroke="#000" stroke-width="0.15" textLength="50.2" lengthAdjust="spacingAndGlyphs" >9 Mar 04:00</text>
<rect x="517" y="807" width="1" height="3" fill="#000" />
<text x="516" y="819" font-size="10" fill="#000" stroke="#000" stroke-width="0.15" textLength="50.2" lengthAdjust="spacingAndGlyphs" >9 Mar 20:00</text>
<rect x="581" y="807" width="1" height="3" fill="#000" />
<text x="580" y="819" font-size="10" fill="#000" stroke="#000" stroke-width="0.15" textLength="55.4" lengthAdjust="spacingAndGlyphs" >10 Mar 12:00</text>
<rect x="645" y="807" width="1" height="3" fill="#000" />
<text x="644" y="819" font-size="10" fill="#000" stroke="#000" stroke-width="0.15" textLength="55.4" lengthAdjust="spacingAndGlyphs" >13 Mar 00:00</text>
<rect x="709" y="807" width="1" height="3" fill="#000" />
<text x="708" y="819" font-size="10" fill="#000" stroke="#000" stroke-width="0.15" textLength="55.4" lengthAdjust="spacingAndGlyphs" >13 Mar 16:00</text>
<rect x="773" y="807" width="1" height="3" fill="#000" />
<text x="772" y="819" font-size="10" fill="#000" stroke="#000" stroke-width="0.15" textLength="55.4" lengthAdjust="spacingAndGlyphs" >14 Mar 08:00</text>
<rect x="837" y="807" width="1" height="3" fill="#000" />
<text x="836" y="819" font-size="10" fill="#000" stroke="#000" stroke-width="0.15" textLength="55.4" lengthAdjust="spacingAndGlyphs" >15 Mar 00:00</text>
<rect x="901" y="807" width="1" height="3" fill="#000" />
<text x="900" y="819" font-size="10" fill="#000" stroke="#000" stroke-width="0.15" textLength="55.4" lengthAdjust="spacingAndGlyphs" >15 Mar 16:00</text>
<rect x="965" y="807" width="1" height="3" fill="#000" />
<text x="964" y="819" font-size="10" fill="#000" stroke="#000" stroke-width="0.15" textLength="55.4" lengthAdjust="spacingAndGlyphs" >16 Mar 08:00</text>
<rect x="1029" y="807" width="1" height="3" fill="#000" />
<text x="1028" y="819" font-size="10" fill="#000" stroke="#000" stroke-width="0.15" textLength="55.4" lengthAdjust="spacingAndGlyphs" >17 Mar 00:00</text>
<rect x="1093" y="807" width="1" height="3" fill="#000" />
<text x="1092" y="819" font-size="10" fill="#000" stroke="#000" stroke-width="0.15" textLength="55.4" lengthAdjust="spacingAndGlyphs" >17 Mar 16:00</text>
<rect x="1157" y="807" width="1" height="3" fill="#000" />
<text x="1156" y="819" font-size="10" fill="#000" stroke="#000" stroke-width="0.15" textLength="55.4" lengthAdjust="spacingAndGlyphs" >20 Mar 08:00</text>
<rect x="1221" y="807" width="1" height="3" fill="#000" />
<text x="1220" y="819" font-size="10" fill="#000" stroke="#000" stroke-width="0.15" textLength="55.4" lengthAdjust="spacingAndGlyphs" >21 Mar 00:00</text>
<rect x="1285" y="807" width="1" height="3" fill="#000" />
<text x="1284" y="819" font-size="10" fill="#000" stroke="#000" stroke-width="0.15" textLength="55.4" lengthAdjust="spacingAndGlyphs" >21 Mar 16:00</text>
<rect x="1349" y="807" width="1" height="3" fill="#000" />
<text x="1348" y="819" font-size="10" fill="#000" stroke="#000" stroke-width="0.15" textLength="55.4" lengthAdjust="spacingAndGlyphs" >22 Mar 08:00</text>
<rect x="1413" y="807" width="1" height="3" fill="#000" />
<text x="1412" y="819" font-size="10" fill="#000" stroke="#000" stroke-width="0.15" textLength="55.4" lengthAdjust="spacingAndGlyphs" >23 Mar 00:00</text>
<rect x="1477" y="807" width="1" height="3" fill="#000" />
<text x="1476" y="819" font-size="10" fill="#000" stroke="#000" stroke-width="0.15" textLength="55.4" lengthAdjust="spacingAndGlyphs" >23 Mar 16:00</text>
<defs><pattern id="chk" width="2" height="2" patternUnits="userSpaceOnUse"><rect width="2" height="2" fill="#ffffff"/><rect width="1" height="1" fill="#f0f0f0"/><rect x="1" y="1" width="1" height="1" fill="#f0f0f0"/></pattern><linearGradient id="gold" x1="0" y1="0" x2="1" y2="1"><stop offset="0" stop-color="#f7d84a"/><stop offset="1" stop-color="#c8901e"/></linearGradient><radialGradient id="badge" cx="0.5" cy="0.35" r="0.6"><stop offset="0" stop-color="#f0603a"/><stop offset="1" stop-color="#d42a12"/></radialGradient></defs>
<g fill="none" stroke="#000" stroke-width="1" shape-rendering="crispEdges">
<path d="M0,6.5 H6 M0,11.5 H3 M1.5,7 V16 M3.5,9.5 H8.5 M6.5,9.5 V16"/>
</g><g fill="none" stroke="#000" stroke-width="1.1" shape-rendering="geometricPrecision">
<path d="M10.5,5 L12,7 M9,9.5 H11.5 V15 L13.5,12.5 M13.5,6.5 H21 M17.5,6.5 V15.5 H14.5"/>
<path d="M23.5,5 L24.5,6.5 M30,5 L29,6.5 M23,7.5 H31 V11.5 H23 Z M23,9.5 H31 M26.5,7.5 V16 M21,13.5 H33"/>
<path d="M154,4.5 L153,6 M150.5,6 H159 V15.5 H150.5 Z M150.5,8.5 H159 M150.5,11.5 H159"/>
<path d="M162,6.5 H167.5 M161,9.5 H168 M164,9.5 L161.5,15 H167 M166,12.5 L167.5,14.5 M167,8.5 H172 V15.5 L170,15 M169.5,5 V9 Q169,13 166,16"/>
<path d="M179,4.5 L179.5,6 M173,7 H185 M176.5,8.5 L175,10.5 M182.5,8.5 L184,10.5 M176,11 L184.5,16 M183,11 L174.5,16"/>
<path d="M186.5,5 H195 V10.5 H186.5 Z M186.5,7.8 H195 M186,11.5 H195.5 V15.5 L194,16 M188.5,12 L185.5,15.5 M191.5,12 L188.5,16 M194,12 L191.5,16"/>
</g>
<polygon points="52,5 60,10.5 56,19 45,13" fill="url(#gold)" stroke="#9a6a12" stroke-width="1" shape-rendering="geometricPrecision"/>
<path d="M47,14 L57,19" stroke="#f4e7a0" stroke-width="1" shape-rendering="geometricPrecision"/>
<g shape-rendering="geometricPrecision">
<rect x="75" y="4" width="11" height="10" fill="#1c9cf6"/><path d="M76,5 L78,7 V13" stroke="#bfe6ff" stroke-width="1" fill="none"/><rect x="80" y="8.5" width="5" height="1.5" fill="#e8f6ff"/>
<path d="M73.5,17.5 C72,14 75,13 76.5,14 C77,11.5 81,11 82,13.5 C84,12.5 87,13.5 86.5,16 C88,17 87,19.5 85,19.5 H75.5 C73.5,19.5 73,18 73.5,17.5 Z" fill="#e4e8f2" stroke="#4a5f8f" stroke-width="1"/>
<circle cx="109" cy="11.5" r="7.5" fill="none" stroke="#7aa0dd" stroke-width="1" opacity="0.8"/>
<circle cx="109" cy="11.5" r="4.6" fill="none" stroke="#8fb0d8" stroke-width="1" opacity="0.8"/>
<path d="M109,4 A7.5,7.5 0 0 1 109,19" fill="none" stroke="#62a85a" stroke-width="1.2" opacity="0.85"/>
<circle cx="108.8" cy="11.5" r="1.8" fill="#2a5fc8"/><rect x="108.5" y="12" width="1.2" height="7.5" fill="#2aa52a"/>
<path d="M129,11 L136,19 L143,15 L143,10 Z" fill="#f2dc50" stroke="#c9a422" stroke-width="0.8"/>
<ellipse cx="135.5" cy="9" rx="7.5" ry="3" fill="#5aaee0" stroke="#2f7fb0" stroke-width="0.8"/><ellipse cx="135" cy="7" rx="4" ry="3" fill="#7cc4ee" stroke="#3a88b8" stroke-width="0.8"/>
<circle cx="140.5" cy="15.5" r="4.3" fill="#d8261a"/><rect x="139" y="14" width="3" height="3" fill="#fff"/>
</g>
<rect x="204" y="1" width="1" height="21" fill="#a0a0a0" />
<rect x="205" y="1" width="1" height="21" fill="#ffffff" />
<rect x="208" y="2" width="3" height="1" fill="#a8a8a8" />
<rect x="208" y="4" width="3" height="1" fill="#a8a8a8" />
<rect x="208" y="6" width="3" height="1" fill="#a8a8a8" />
<rect x="208" y="8" width="3" height="1" fill="#a8a8a8" />
<rect x="208" y="10" width="3" height="1" fill="#a8a8a8" />
<rect x="208" y="12" width="3" height="1" fill="#a8a8a8" />
<rect x="208" y="14" width="3" height="1" fill="#a8a8a8" />
<rect x="208" y="16" width="3" height="1" fill="#a8a8a8" />
<rect x="208" y="18" width="3" height="1" fill="#a8a8a8" />
<rect x="208" y="20" width="3" height="1" fill="#a8a8a8" />
<rect x="222" y="7" width="1" height="14" fill="#555" />
<rect x="220" y="17" width="12" height="1" fill="#555" />
<polygon points="220.5,8.5 222.5,6.5 224.5,8.5" fill="#555" shape-rendering="geometricPrecision"/>
<polygon points="231.5,15.5 234,17.5 231.5,19.5" fill="#555" shape-rendering="geometricPrecision"/>
<rect x="228" y="7" width="1" height="9" fill="#1a8a1a" />
<rect x="229" y="8" width="2" height="1" fill="#1a8a1a" />
<rect x="226" y="14" width="2" height="1" fill="#1a8a1a" />
<rect x="242" y="0" width="25" height="22" fill="url(#chk)"/>
<rect x="242" y="0" width="1" height="22" fill="#a0a0a0" />
<rect x="242" y="0" width="25" height="1" fill="#a0a0a0" />
<rect x="242" y="22" width="26" height="1" fill="#ffffff" />
<rect x="267" y="0" width="1" height="23" fill="#ffffff" />
<rect x="250" y="7" width="1" height="14" fill="#555" />
<rect x="248" y="17" width="12" height="1" fill="#555" />
<polygon points="248.5,8.5 250.5,6.5 252.5,8.5" fill="#555" shape-rendering="geometricPrecision"/>
<polygon points="259.5,15.5 262,17.5 259.5,19.5" fill="#555" shape-rendering="geometricPrecision"/>
<rect x="256" y="4" width="1" height="12" fill="#0a8a0a" />
<rect x="254.5" y="6.5" width="4" height="7" fill="#3ee05a" stroke="#0a8a0a" stroke-width="1"/>
<rect x="278" y="7" width="1" height="14" fill="#555" />
<rect x="276" y="17" width="12" height="1" fill="#555" />
<polygon points="276.5,8.5 278.5,6.5 280.5,8.5" fill="#555" shape-rendering="geometricPrecision"/>
<polygon points="287.5,15.5 290,17.5 287.5,19.5" fill="#555" shape-rendering="geometricPrecision"/>
<path d="M277,14.5 Q281,8.5 283,8.8 Q285.5,9.5 288.5,12.8" fill="none" stroke="#2a9a2a" stroke-width="1" shape-rendering="geometricPrecision"/>
<rect x="299" y="1" width="1" height="21" fill="#a0a0a0" />
<rect x="300" y="1" width="1" height="21" fill="#ffffff" />
<g shape-rendering="geometricPrecision">
<line x1="317.5" y1="13.5" x2="323" y2="19" stroke="#b07a10" stroke-width="3"/>
<line x1="317.5" y1="13.5" x2="323" y2="19" stroke="#f0e070" stroke-width="1.6"/>
<circle cx="314" cy="10" r="5.6" fill="#d8f0fc" stroke="#3a80c8" stroke-width="1.1"/>
<rect x="310.5" y="9" width="7" height="2" fill="#4a88b0"/>
<rect x="313" y="6.5" width="2" height="7" fill="#4a88b0"/>
<line x1="345.5" y1="13.5" x2="351" y2="19" stroke="#b07a10" stroke-width="3"/>
<line x1="345.5" y1="13.5" x2="351" y2="19" stroke="#f0e070" stroke-width="1.6"/>
<circle cx="342" cy="10" r="5.6" fill="#d8f0fc" stroke="#3a80c8" stroke-width="1.1"/>
<rect x="338.5" y="9" width="7" height="2" fill="#4a88b0"/>
</g>
<rect x="364" y="4" width="8" height="8" fill="#2a9a2a" />
<rect x="365" y="8" width="6" height="3" fill="#f4f8f4" />
<rect x="365" y="7" width="6" height="1" fill="#d0e8d0" />
<rect x="372" y="4" width="8" height="8" fill="#1a55d0" />
<rect x="373" y="8" width="6" height="3" fill="#f4f8f4" />
<rect x="373" y="7" width="6" height="1" fill="#d0e8d0" />
<rect x="364" y="12" width="8" height="8" fill="#1a55d0" />
<rect x="365" y="16" width="6" height="3" fill="#f4f8f4" />
<rect x="365" y="15" width="6" height="1" fill="#d0e8d0" />
<rect x="372" y="12" width="8" height="8" fill="#2a9a2a" />
<rect x="373" y="16" width="6" height="3" fill="#f4f8f4" />
<rect x="373" y="15" width="6" height="1" fill="#d0e8d0" />
<rect x="389" y="1" width="1" height="21" fill="#a0a0a0" />
<rect x="390" y="1" width="1" height="21" fill="#ffffff" />
<rect x="394" y="0" width="25" height="22" fill="url(#chk)"/>
<rect x="394" y="0" width="1" height="22" fill="#a0a0a0" />
<rect x="394" y="0" width="25" height="1" fill="#a0a0a0" />
<rect x="394" y="22" width="26" height="1" fill="#ffffff" />
<rect x="419" y="0" width="1" height="23" fill="#ffffff" />
<rect x="402" y="7" width="1" height="14" fill="#555" />
<rect x="400" y="17" width="12" height="1" fill="#555" />
<polygon points="400.5,8.5 402.5,6.5 404.5,8.5" fill="#555" shape-rendering="geometricPrecision"/>
<polygon points="411.5,15.5 414,17.5 411.5,19.5" fill="#555" shape-rendering="geometricPrecision"/>
<polygon points="407.5,8 411,11.5 407.5,15" fill="#40d040" stroke="#0a900a" stroke-width="1" shape-rendering="geometricPrecision"/>
<rect x="422" y="0" width="25" height="22" fill="url(#chk)"/>
<rect x="422" y="0" width="1" height="22" fill="#a0a0a0" />
<rect x="422" y="0" width="25" height="1" fill="#a0a0a0" />
<rect x="422" y="22" width="26" height="1" fill="#ffffff" />
<rect x="447" y="0" width="1" height="23" fill="#ffffff" />
<rect x="430" y="7" width="1" height="14" fill="#555" />
<rect x="428" y="17" width="12" height="1" fill="#555" />
<polygon points="428.5,8.5 430.5,6.5 432.5,8.5" fill="#555" shape-rendering="geometricPrecision"/>
<polygon points="439.5,15.5 442,17.5 439.5,19.5" fill="#555" shape-rendering="geometricPrecision"/>
<rect x="436" y="6" width="1" height="10" fill="#1a6aa8" />
<polygon points="437.5,11.5 440.5,9 440,11 442,11 442,12 440,12 440.5,14" fill="#e05010" shape-rendering="geometricPrecision"/>
<rect x="451" y="1" width="1" height="21" fill="#a0a0a0" />
<rect x="452" y="1" width="1" height="21" fill="#ffffff" />
<g shape-rendering="geometricPrecision">
<path d="M461.5,4.5 H469 L472.5,8 V17.5 H461.5 Z" fill="#fafafa" stroke="#777" stroke-width="1"/>
<path d="M464,8 V15" stroke="#6a5a3a" stroke-width="1"/>
<path d="M465.5,14 H469 V10.5 H473 V14 H476.5 V18 H473 V21.5 H469 V18 H465.5 Z" fill="#3ee03e" stroke="#0a9a0a" stroke-width="1"/>
</g>
<polygon points="483,10.5 489,10.5 486,14" fill="#000" shape-rendering="geometricPrecision"/>
<g shape-rendering="geometricPrecision">
<circle cx="507" cy="11.8" r="7.3" fill="#f8f8fa" stroke="#1a70d8" stroke-width="2.2"/>
<path d="M506.5,7 V12 L509.5,13" fill="none" stroke="#222" stroke-width="1.2"/>
<circle cx="512.30" cy="11.80" r="0.45" fill="#777"/>
<circle cx="511.59" cy="14.45" r="0.45" fill="#777"/>
<circle cx="509.65" cy="16.39" r="0.45" fill="#777"/>
<circle cx="507.00" cy="17.10" r="0.45" fill="#777"/>
<circle cx="504.35" cy="16.39" r="0.45" fill="#777"/>
<circle cx="502.41" cy="14.45" r="0.45" fill="#777"/>
<circle cx="501.70" cy="11.80" r="0.45" fill="#777"/>
<circle cx="502.41" cy="9.15" r="0.45" fill="#777"/>
<circle cx="504.35" cy="7.21" r="0.45" fill="#777"/>
<circle cx="507.00" cy="6.50" r="0.45" fill="#777"/>
<circle cx="509.65" cy="7.21" r="0.45" fill="#777"/>
<circle cx="511.59" cy="9.15" r="0.45" fill="#777"/>
</g>
<polygon points="522,10.5 528,10.5 525,14" fill="#000" shape-rendering="geometricPrecision"/>
<rect x="538.5" y="5.5" width="15" height="13" fill="#fff" stroke="#3a7ad0" stroke-width="1"/>
<rect x="539" y="6" width="14" height="2" fill="#4a8ae0" />
<rect x="539" y="12" width="14" height="1" fill="#3a7ad0" />
<path d="M540,11.2 L542.8,10.6 L545.9,9.4 L548.3,10.6 L551.3,9.4" fill="none" stroke="#a02010" stroke-width="1.2" shape-rendering="geometricPrecision"/>
<path d="M541,16.3 L543.7,15.6 L545.9,16.3 L548.9,14.2 L551.6,16.3" fill="none" stroke="#1a9a1a" stroke-width="1.2" shape-rendering="geometricPrecision"/>
<polygon points="561,10.5 567,10.5 564,14" fill="#000" shape-rendering="geometricPrecision"/>
<rect x="572" y="1" width="1" height="21" fill="#a0a0a0" />
<rect x="573" y="1" width="1" height="21" fill="#ffffff" />
<rect x="576" y="2" width="3" height="1" fill="#a8a8a8" />
<rect x="576" y="4" width="3" height="1" fill="#a8a8a8" />
<rect x="576" y="6" width="3" height="1" fill="#a8a8a8" />
<rect x="576" y="8" width="3" height="1" fill="#a8a8a8" />
<rect x="576" y="10" width="3" height="1" fill="#a8a8a8" />
<rect x="576" y="12" width="3" height="1" fill="#a8a8a8" />
<rect x="576" y="14" width="3" height="1" fill="#a8a8a8" />
<rect x="576" y="16" width="3" height="1" fill="#a8a8a8" />
<rect x="576" y="18" width="3" height="1" fill="#a8a8a8" />
<rect x="576" y="20" width="3" height="1" fill="#a8a8a8" />
<rect x="582" y="0" width="25" height="22" fill="url(#chk)"/>
<rect x="582" y="0" width="1" height="22" fill="#a0a0a0" />
<rect x="582" y="0" width="25" height="1" fill="#a0a0a0" />
<rect x="582" y="22" width="26" height="1" fill="#ffffff" />
<rect x="607" y="0" width="1" height="23" fill="#ffffff" />
<polygon points="590,5 598,12.5 594.5,12.5 597,17.5 595,18.5 592.5,13.5 590,16" fill="#4a4a4a" shape-rendering="geometricPrecision"/>
<rect x="622" y="5" width="1" height="6" fill="#444" />
<rect x="622" y="14" width="1" height="6" fill="#444" />
<rect x="615" y="12" width="6" height="1" fill="#444" />
<rect x="624" y="12" width="6" height="1" fill="#444" />
<rect x="639" y="1" width="1" height="21" fill="#a0a0a0" />
<rect x="640" y="1" width="1" height="21" fill="#ffffff" />
<rect x="656" y="6" width="1" height="13" fill="#444" />
<rect x="679" y="12" width="12" height="1" fill="#444" />
<line x1="707" y1="18.7" x2="718.6" y2="6.9" stroke="#333" stroke-width="1.2" shape-rendering="geometricPrecision"/>
<g stroke="#444" stroke-width="1" fill="none" shape-rendering="geometricPrecision"><line x1="733" y1="14" x2="741" y2="6"/><line x1="734" y1="18" x2="747" y2="5"/><line x1="738" y1="19" x2="746" y2="11"/></g>
<text x="744" y="21" font-size="7" font-weight="bold" fill="#444">E</text>
<rect x="762" y="5" width="1" height="1" fill="#555" />
<rect x="764" y="5" width="1" height="1" fill="#555" />
<rect x="766" y="5" width="1" height="1" fill="#555" />
<rect x="768" y="5" width="1" height="1" fill="#555" />
<rect x="770" y="5" width="1" height="1" fill="#555" />
<rect x="772" y="5" width="1" height="1" fill="#555" />
<rect x="774" y="5" width="1" height="1" fill="#555" />
<rect x="762" y="8" width="1" height="1" fill="#555" />
<rect x="764" y="8" width="1" height="1" fill="#555" />
<rect x="766" y="8" width="1" height="1" fill="#555" />
<rect x="768" y="8" width="1" height="1" fill="#555" />
<rect x="770" y="8" width="1" height="1" fill="#555" />
<rect x="772" y="8" width="1" height="1" fill="#555" />
<rect x="774" y="8" width="1" height="1" fill="#555" />
<rect x="762" y="12" width="1" height="1" fill="#555" />
<rect x="764" y="12" width="1" height="1" fill="#555" />
<rect x="766" y="12" width="1" height="1" fill="#555" />
<rect x="768" y="12" width="1" height="1" fill="#555" />
<rect x="770" y="12" width="1" height="1" fill="#555" />
<rect x="772" y="12" width="1" height="1" fill="#555" />
<rect x="774" y="12" width="1" height="1" fill="#555" />
<rect x="762" y="16" width="1" height="1" fill="#555" />
<rect x="764" y="16" width="1" height="1" fill="#555" />
<rect x="766" y="16" width="1" height="1" fill="#555" />
<rect x="768" y="16" width="1" height="1" fill="#555" />
<rect x="770" y="16" width="1" height="1" fill="#555" />
<text x="771" y="21" font-size="7" font-weight="bold" fill="#444">F</text>
<text x="792" y="17" font-size="12" font-weight="bold" fill="#555" textLength="9" lengthAdjust="spacingAndGlyphs">A</text>
<rect x="819" y="6" width="1" height="1" fill="#555" />
<rect x="819" y="18" width="1" height="1" fill="#555" />
<rect x="821" y="6" width="1" height="1" fill="#555" />
<rect x="821" y="18" width="1" height="1" fill="#555" />
<rect x="823" y="6" width="1" height="1" fill="#555" />
<rect x="823" y="18" width="1" height="1" fill="#555" />
<rect x="825" y="6" width="1" height="1" fill="#555" />
<rect x="825" y="18" width="1" height="1" fill="#555" />
<rect x="827" y="6" width="1" height="1" fill="#555" />
<rect x="827" y="18" width="1" height="1" fill="#555" />
<rect x="829" y="6" width="1" height="1" fill="#555" />
<rect x="829" y="18" width="1" height="1" fill="#555" />
<rect x="831" y="6" width="1" height="1" fill="#555" />
<rect x="831" y="18" width="1" height="1" fill="#555" />
<rect x="819" y="6" width="1" height="1" fill="#555" />
<rect x="831" y="6" width="1" height="1" fill="#555" />
<rect x="819" y="8" width="1" height="1" fill="#555" />
<rect x="831" y="8" width="1" height="1" fill="#555" />
<rect x="819" y="10" width="1" height="1" fill="#555" />
<rect x="831" y="10" width="1" height="1" fill="#555" />
<rect x="819" y="12" width="1" height="1" fill="#555" />
<rect x="831" y="12" width="1" height="1" fill="#555" />
<rect x="819" y="14" width="1" height="1" fill="#555" />
<rect x="831" y="14" width="1" height="1" fill="#555" />
<rect x="819" y="16" width="1" height="1" fill="#555" />
<rect x="831" y="16" width="1" height="1" fill="#555" />
<rect x="819" y="18" width="1" height="1" fill="#555" />
<rect x="831" y="18" width="1" height="1" fill="#555" />
<rect x="822" y="9" width="7" height="2" fill="#555" />
<rect x="824" y="9" width="2" height="8" fill="#555" />
<g fill="#555" shape-rendering="geometricPrecision"><polygon points="846,9.5 849.5,6 853,9.5 849.5,11"/><polygon points="854,15.5 857,12.5 860.5,15.5 857,19"/><path d="M849,12.5 L851.5,15 L856,10" stroke="#555" stroke-width="1.5" fill="none"/></g>
<polygon points="866,10.5 872,10.5 869,14" fill="#000" shape-rendering="geometricPrecision"/>
<rect x="878" y="1" width="1" height="21" fill="#a0a0a0" />
<rect x="879" y="1" width="1" height="21" fill="#ffffff" />
<rect x="882" y="2" width="3" height="1" fill="#a8a8a8" />
<rect x="882" y="4" width="3" height="1" fill="#a8a8a8" />
<rect x="882" y="6" width="3" height="1" fill="#a8a8a8" />
<rect x="882" y="8" width="3" height="1" fill="#a8a8a8" />
<rect x="882" y="10" width="3" height="1" fill="#a8a8a8" />
<rect x="882" y="12" width="3" height="1" fill="#a8a8a8" />
<rect x="882" y="14" width="3" height="1" fill="#a8a8a8" />
<rect x="882" y="16" width="3" height="1" fill="#a8a8a8" />
<rect x="882" y="18" width="3" height="1" fill="#a8a8a8" />
<rect x="882" y="20" width="3" height="1" fill="#a8a8a8" />
<rect x="1028" y="0" width="26" height="22" fill="url(#chk)"/>
<rect x="1028" y="0" width="1" height="22" fill="#a0a0a0" />
<rect x="1028" y="0" width="26" height="1" fill="#a0a0a0" />
<rect x="1028" y="22" width="27" height="1" fill="#ffffff" />
<rect x="1054" y="0" width="1" height="23" fill="#ffffff" />
<text x="894" y="16" font-size="9.8" fill="#2a2a2a" textLength="12" lengthAdjust="spacingAndGlyphs">M1</text>
<text x="922" y="16" font-size="9.8" fill="#2a2a2a" textLength="12.5" lengthAdjust="spacingAndGlyphs">M5</text>
<text x="948" y="16" font-size="9.8" fill="#2a2a2a" textLength="17.5" lengthAdjust="spacingAndGlyphs">M15</text>
<text x="976" y="16" font-size="9.8" fill="#2a2a2a" textLength="17.5" lengthAdjust="spacingAndGlyphs">M30</text>
<text x="1007" y="16" font-size="9.8" fill="#2a2a2a" textLength="11.5" lengthAdjust="spacingAndGlyphs">H1</text>
<text x="1034" y="16" font-size="9.8" fill="#2a2a2a" textLength="12" lengthAdjust="spacingAndGlyphs">H4</text>
<text x="1063" y="16" font-size="9.8" fill="#2a2a2a" textLength="11.5" lengthAdjust="spacingAndGlyphs">D1</text>
<text x="1090" y="16" font-size="9.8" fill="#2a2a2a" textLength="14" lengthAdjust="spacingAndGlyphs">W1</text>
<text x="1117" y="16" font-size="9.8" fill="#2a2a2a" textLength="14.5" lengthAdjust="spacingAndGlyphs">MN</text>
<rect x="1139" y="1" width="1" height="21" fill="#a0a0a0" />
<rect x="1140" y="1" width="1" height="21" fill="#ffffff" />
<g shape-rendering="geometricPrecision">
<circle cx="1609.4" cy="9.4" r="3.8" fill="#f4f4ff" stroke="#2a5bd7" stroke-width="1.4"/>
<line x1="1606.5" y1="12.3" x2="1602" y2="16.8" stroke="#2a5bd7" stroke-width="2.2" stroke-linecap="round"/>
<ellipse cx="1631.5" cy="14" rx="5.5" ry="4.5" fill="#e4e6ee" stroke="#9a9a9a" stroke-width="1"/>
<polygon points="1629,17.5 1629,20.5 1632,18" fill="#888"/>
<circle cx="1640.5" cy="9.4" r="8.2" fill="url(#badge)"/>
<text x="1640.6" y="13.8" font-size="11" font-weight="bold" fill="#fff" text-anchor="middle" font-family="Liberation Serif">1</text>
</g>
</svg></body></html>
